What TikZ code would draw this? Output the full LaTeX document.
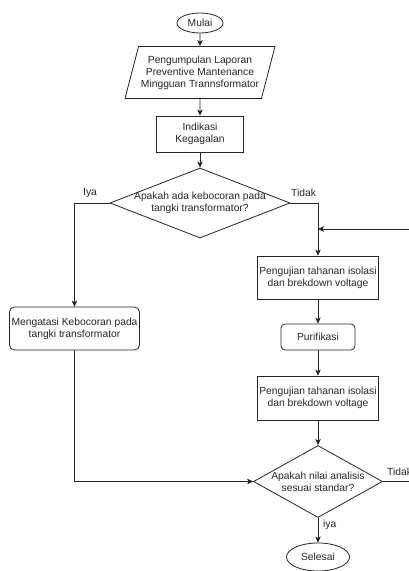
\documentclass[tikz,border=0pt]{standalone}
\usepackage{fontspec}
\setmainfont{Liberation Sans}
\usepackage{tikz}
\usetikzlibrary{arrows.meta, shapes.geometric, calc}
\tikzset{
    termNode/.style={ellipse, draw=black!85, line width=0.8pt, inner sep=0pt},
    dataNode/.style={trapezium, trapezium left angle=68, trapezium right angle=112,
        trapezium stretches body=true, draw=black!85, line width=0.8pt, inner sep=0pt, align=center},
    procNode/.style={rectangle, draw=black!85, line width=0.8pt, inner sep=0pt, align=center},
    softNode/.style={procNode, rounded corners=5pt},
    decNode/.style={diamond, draw=black!85, line width=0.8pt, inner sep=-4pt, align=center},
    flowLine/.style={->, line width=0.8pt, draw=black!85},
    flowText/.style={inner sep=0pt, text=black!85}
}

\begin{document}
\begin{tikzpicture}[x=1pt, y=-1pt, >={Stealth[length=6pt, width=5.5pt, inset=1.5pt]},
    font=\fontsize{10.3}{12}\selectfont, text=black!85]
    \useasboundingbox (0,0) rectangle (409,571);
    % --- Main column ---
    \node[termNode, minimum width=46pt, minimum height=20pt] (mulai) at (200,23) {Mulai};
    \node[dataNode, minimum width=150pt, minimum height=52pt] (laporan) at (200,72.5)
        {Pengumpulan Laporan\\Preventive Mantenance\\Mingguan Trannsformator};
    \node[procNode, minimum width=87pt, minimum height=36pt] (indikasi) at (200,134) {Indikasi\\Kegagalan};
    \node[decNode, shape aspect=2.57, minimum width=180pt, minimum height=70pt] (cekBocor) at (200,203)
        {Apakah ada kebocoran pada\\tangki transformator?};
    \draw[flowLine] (mulai) -- (laporan);
    \draw[flowLine] (laporan) -- (indikasi);
    \draw[flowLine] (indikasi) -- (cekBocor);
    % --- Left branch ---
    \node[softNode, minimum width=130pt, minimum height=43pt] (atasi) at (74.5,328.5)
        {Mengatasi Kebocoran pada\\tangki transformator};
    \node[flowText, anchor=west] (iyaA) at (83,193) {Iya};
    \draw[flowLine] (cekBocor.west) -| (atasi.north);
    % --- Right branch ---
    \node[procNode, minimum width=121pt, minimum height=43pt] (ujiA) at (318,277.5)
        {Pengujian tahanan isolasi\\dan brekdown voltage};
    \node[softNode, rounded corners=4pt, minimum width=74pt, minimum height=26pt] (purif) at (318,337) {Purifikasi};
    \node[procNode, minimum width=121pt, minimum height=44pt] (ujiB) at (318,398)
        {Pengujian tahanan isolasi\\dan brekdown voltage};
    \node[decNode, shape aspect=1.8, minimum width=129pt, minimum height=72pt] (cekStd) at (318,481.5)
        {Apakah nilai analisis\\sesuai standar?};
    \node[termNode, minimum width=63pt, minimum height=28pt] (selesai) at (318,557) {Selesai};
    \node[flowText, anchor=west] (tidakA) at (291,193) {Tidak};
    \node[flowText, anchor=west] (tidakB) at (387,472) {Tidak};
    \node[flowText, anchor=west] (iyaB) at (323,525) {iya};
    \coordinate (balik) at (ujiA.north |- 0,229);
    \draw[flowLine] (cekBocor.east) -| (ujiA.north);
    \draw[flowLine] (ujiA) -- (purif);
    \draw[flowLine] (purif) -- (ujiB);
    \draw[flowLine] (ujiB) -- (cekStd);
    \draw[flowLine] (cekStd) -- (selesai);
    \draw[flowLine] (cekStd.east) -- ++(40,0) |- (balik);
    % --- Join ---
    \draw[flowLine] (atasi.south) |- (cekStd.west);
\end{tikzpicture}
\end{document}
